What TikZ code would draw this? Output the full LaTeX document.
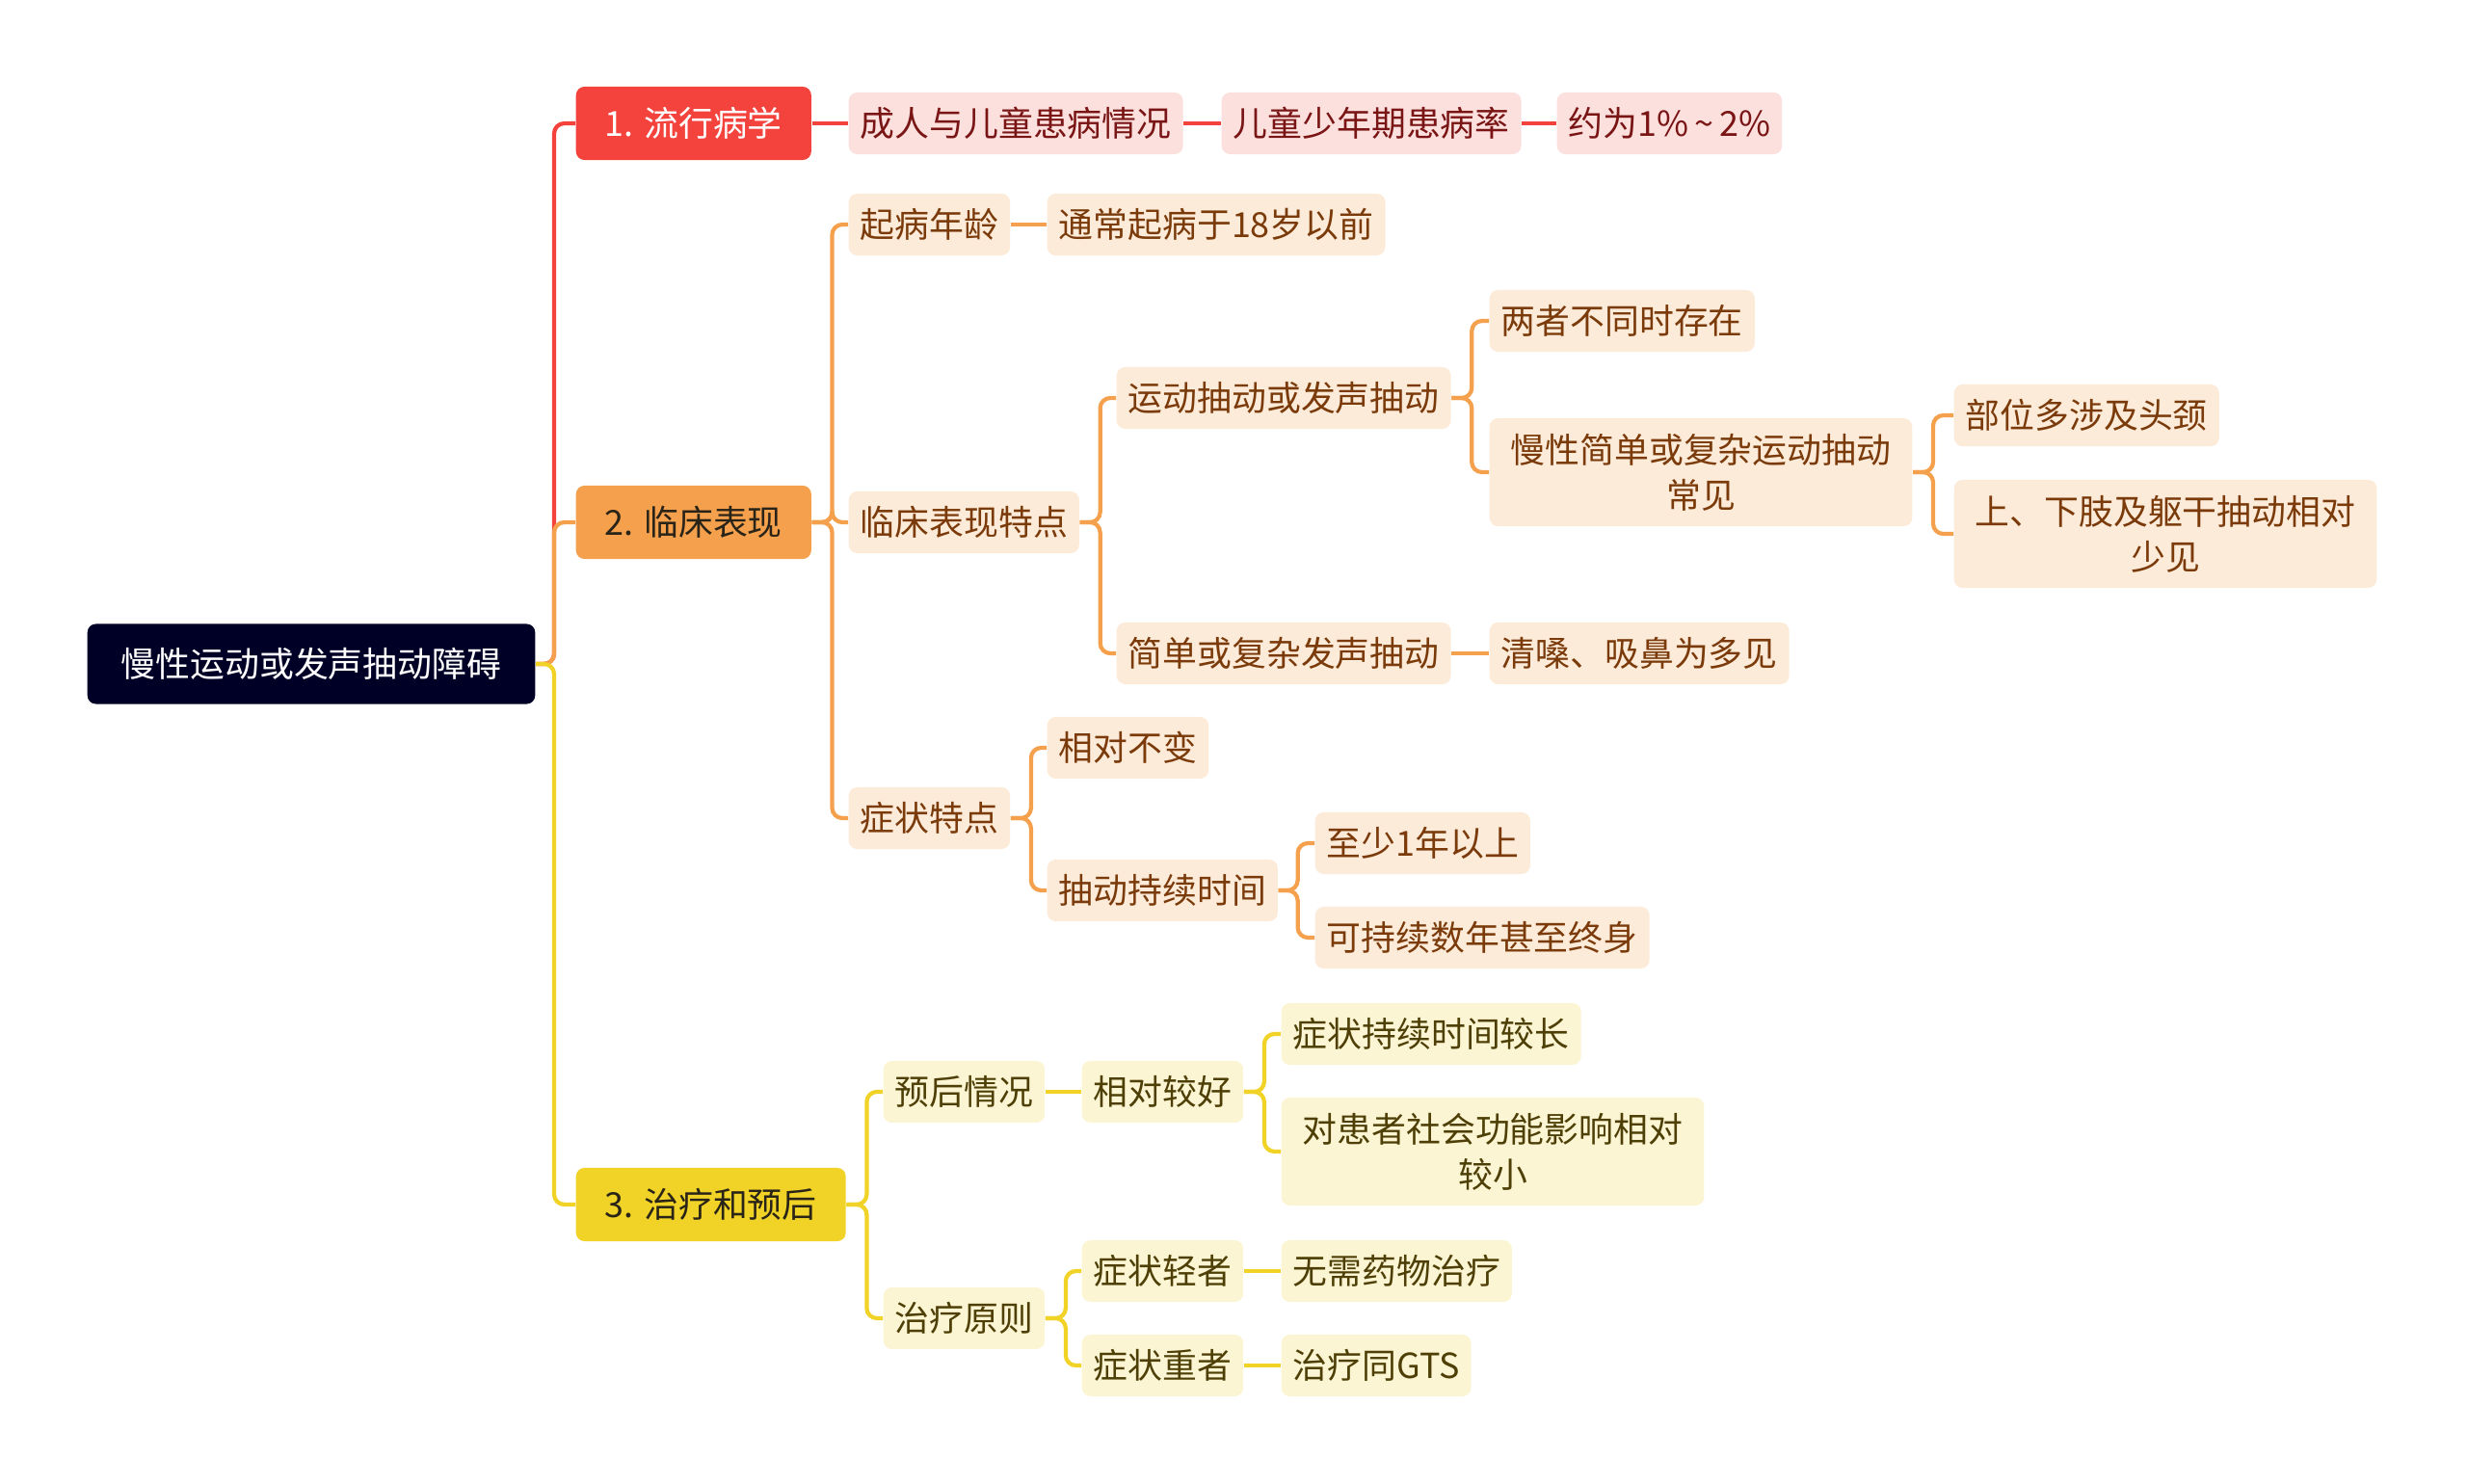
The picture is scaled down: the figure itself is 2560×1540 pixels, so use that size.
\documentclass[tikz,border=0pt]{standalone}
\usepackage{fontspec}
\setmainfont{Noto Sans CJK SC}
\usepackage{tikz}
\usetikzlibrary{positioning}

\definecolor{rootc}{HTML}{000027}
\definecolor{redc}{HTML}{F4433C}
\definecolor{orangec}{HTML}{F4A04C}
\definecolor{yellowc}{HTML}{F0D326}
\definecolor{pinkf}{HTML}{FCE0DE}
\definecolor{pinkt}{HTML}{7A1515}
\definecolor{peachf}{HTML}{FDEBD9}
\definecolor{peacht}{HTML}{7A3A0A}
\definecolor{lightyf}{HTML}{FCF5D4}
\definecolor{lightyt}{HTML}{4D3F05}
\definecolor{darkt}{HTML}{2A2418}

\begin{document}
\begin{tikzpicture}[
  x=0.01cm,y=-0.01cm,
  font=\fontsize{10.2pt}{13.4pt}\selectfont,
  box/.style={rounded corners=2.5pt,anchor=west,align=center},
  rootbox/.style={box,fill=rootc,text=white,inner xsep=0.35cm,minimum height=0.83cm},
  topic/.style={box,inner xsep=0.3cm,minimum height=0.76cm},
  leaf/.style={box,inner xsep=0.12cm,inner ysep=0pt,minimum height=0.64cm},
  twoline/.style={inner xsep=0.22cm,minimum height=1.12cm},
  pinkbox/.style={leaf,fill=pinkf,text=pinkt},
  peachbox/.style={leaf,fill=peachf,text=peacht},
  ybox/.style={leaf,fill=lightyf,text=lightyt},
  conn/.style={line width=1.2pt,rounded corners=3pt}
]
\useasboundingbox (0,0) rectangle (2560,1540);

% root and main topics
\node[rootbox] (root) at (90,689) {慢性运动或发声抽动障碍};
\node[topic,fill=redc,text=white] (epi) at (597,128) {1. 流行病学};
\node[topic,fill=orangec,text=darkt] (clin) at (597,542) {2. 临床表现};
\node[topic,fill=yellowc,text=darkt] (treat) at (597,1250) {3. 治疗和预后};

% 1. 流行病学
\node[pinkbox] (adult) at (880,128) {成人与儿童患病情况};
\node[pinkbox] (rate) at (1267,128) {儿童少年期患病率};
\node[pinkbox] (pct) at (1615,128) {约为1\%\,\textasciitilde\,2\%};

% 2. 临床表现
\node[peachbox] (onset) at (880,233) {起病年龄};
\node[peachbox] (before) at (1086,233) {通常起病于18岁以前};
\node[peachbox] (feat) at (880,542) {临床表现特点};
\node[peachbox] (motor) at (1158,413) {运动抽动或发声抽动};
\node[peachbox] (vocal) at (1158,678) {简单或复杂发声抽动};
\node[peachbox] (notboth) at (1545,333) {两者不同时存在};
\node[peachbox,twoline] (chronic) at (1545,490) {慢性简单或复杂运动抽动\\常见};
\node[peachbox] (head) at (2027,431) {部位多涉及头颈};
\node[peachbox,twoline] (limbs) at (2027,554) {上、下肢及躯干抽动相对\\少见};
\node[peachbox] (throat) at (1545,678) {清嗓、吸鼻为多见};
\node[peachbox] (symp) at (880,849) {症状特点};
\node[peachbox] (stable) at (1086,776) {相对不变};
\node[peachbox] (dur) at (1086,924) {抽动持续时间};
\node[peachbox] (year) at (1364,875) {至少1年以上};
\node[peachbox] (life) at (1364,973) {可持续数年甚至终身};

% 3. 治疗和预后
\node[ybox] (prog) at (916,1133) {预后情况};
\node[ybox] (good) at (1122,1133) {相对较好};
\node[ybox] (long) at (1329,1073) {症状持续时间较长};
\node[ybox,twoline] (social) at (1329,1195) {对患者社会功能影响相对\\较小};
\node[ybox] (princ) at (916,1368) {治疗原则};
\node[ybox] (mild) at (1122,1319) {症状轻者};
\node[ybox] (severe) at (1122,1417) {症状重者};
\node[ybox] (nodrug) at (1329,1319) {无需药物治疗};
\node[ybox] (gts) at (1329,1417) {治疗同GTS};

% trunk
\draw[conn,redc] (root.east) -- ++(19,0) |- (epi.west);
\draw[conn,orangec] (root.east) -- ++(19,0) |- (clin.west);
\draw[conn,yellowc] (root.east) -- ++(19,0) |- (treat.west);

% red branch
\draw[conn,redc] (epi.east) -- (adult.west);
\draw[conn,redc] (adult.east) -- (rate.west);
\draw[conn,redc] (rate.east) -- (pct.west);

% orange branch
\draw[conn,orangec] (clin.east) -- ++(21,0) |- (onset.west);
\draw[conn,orangec] (clin.east) -- ++(21,0) |- (feat.west);
\draw[conn,orangec] (clin.east) -- ++(21,0) |- (symp.west);
\draw[conn,orangec] (onset.east) -- (before.west);
\draw[conn,orangec] (feat.east) -- ++(21,0) |- (motor.west);
\draw[conn,orangec] (feat.east) -- ++(21,0) |- (vocal.west);
\draw[conn,orangec] (motor.east) -- ++(21,0) |- (notboth.west);
\draw[conn,orangec] (motor.east) -- ++(21,0) |- (chronic.west);
\draw[conn,orangec] (chronic.east) -- ++(21,0) |- (head.west);
\draw[conn,orangec] (chronic.east) -- ++(21,0) |- (limbs.west);
\draw[conn,orangec] (vocal.east) -- (throat.west);
\draw[conn,orangec] (symp.east) -- ++(21,0) |- (stable.west);
\draw[conn,orangec] (symp.east) -- ++(21,0) |- (dur.west);
\draw[conn,orangec] (dur.east) -- ++(20,0) |- (year.west);
\draw[conn,orangec] (dur.east) -- ++(20,0) |- (life.west);

% yellow branch
\draw[conn,yellowc] (treat.east) -- ++(21,0) |- (prog.west);
\draw[conn,yellowc] (treat.east) -- ++(21,0) |- (princ.west);
\draw[conn,yellowc] (prog.east) -- (good.west);
\draw[conn,yellowc] (good.east) -- ++(21,0) |- (long.west);
\draw[conn,yellowc] (good.east) -- ++(21,0) |- (social.west);
\draw[conn,yellowc] (princ.east) -- ++(21,0) |- (mild.west);
\draw[conn,yellowc] (princ.east) -- ++(21,0) |- (severe.west);
\draw[conn,yellowc] (mild.east) -- (nodrug.west);
\draw[conn,yellowc] (severe.east) -- (gts.west);
\end{tikzpicture}
\end{document}
